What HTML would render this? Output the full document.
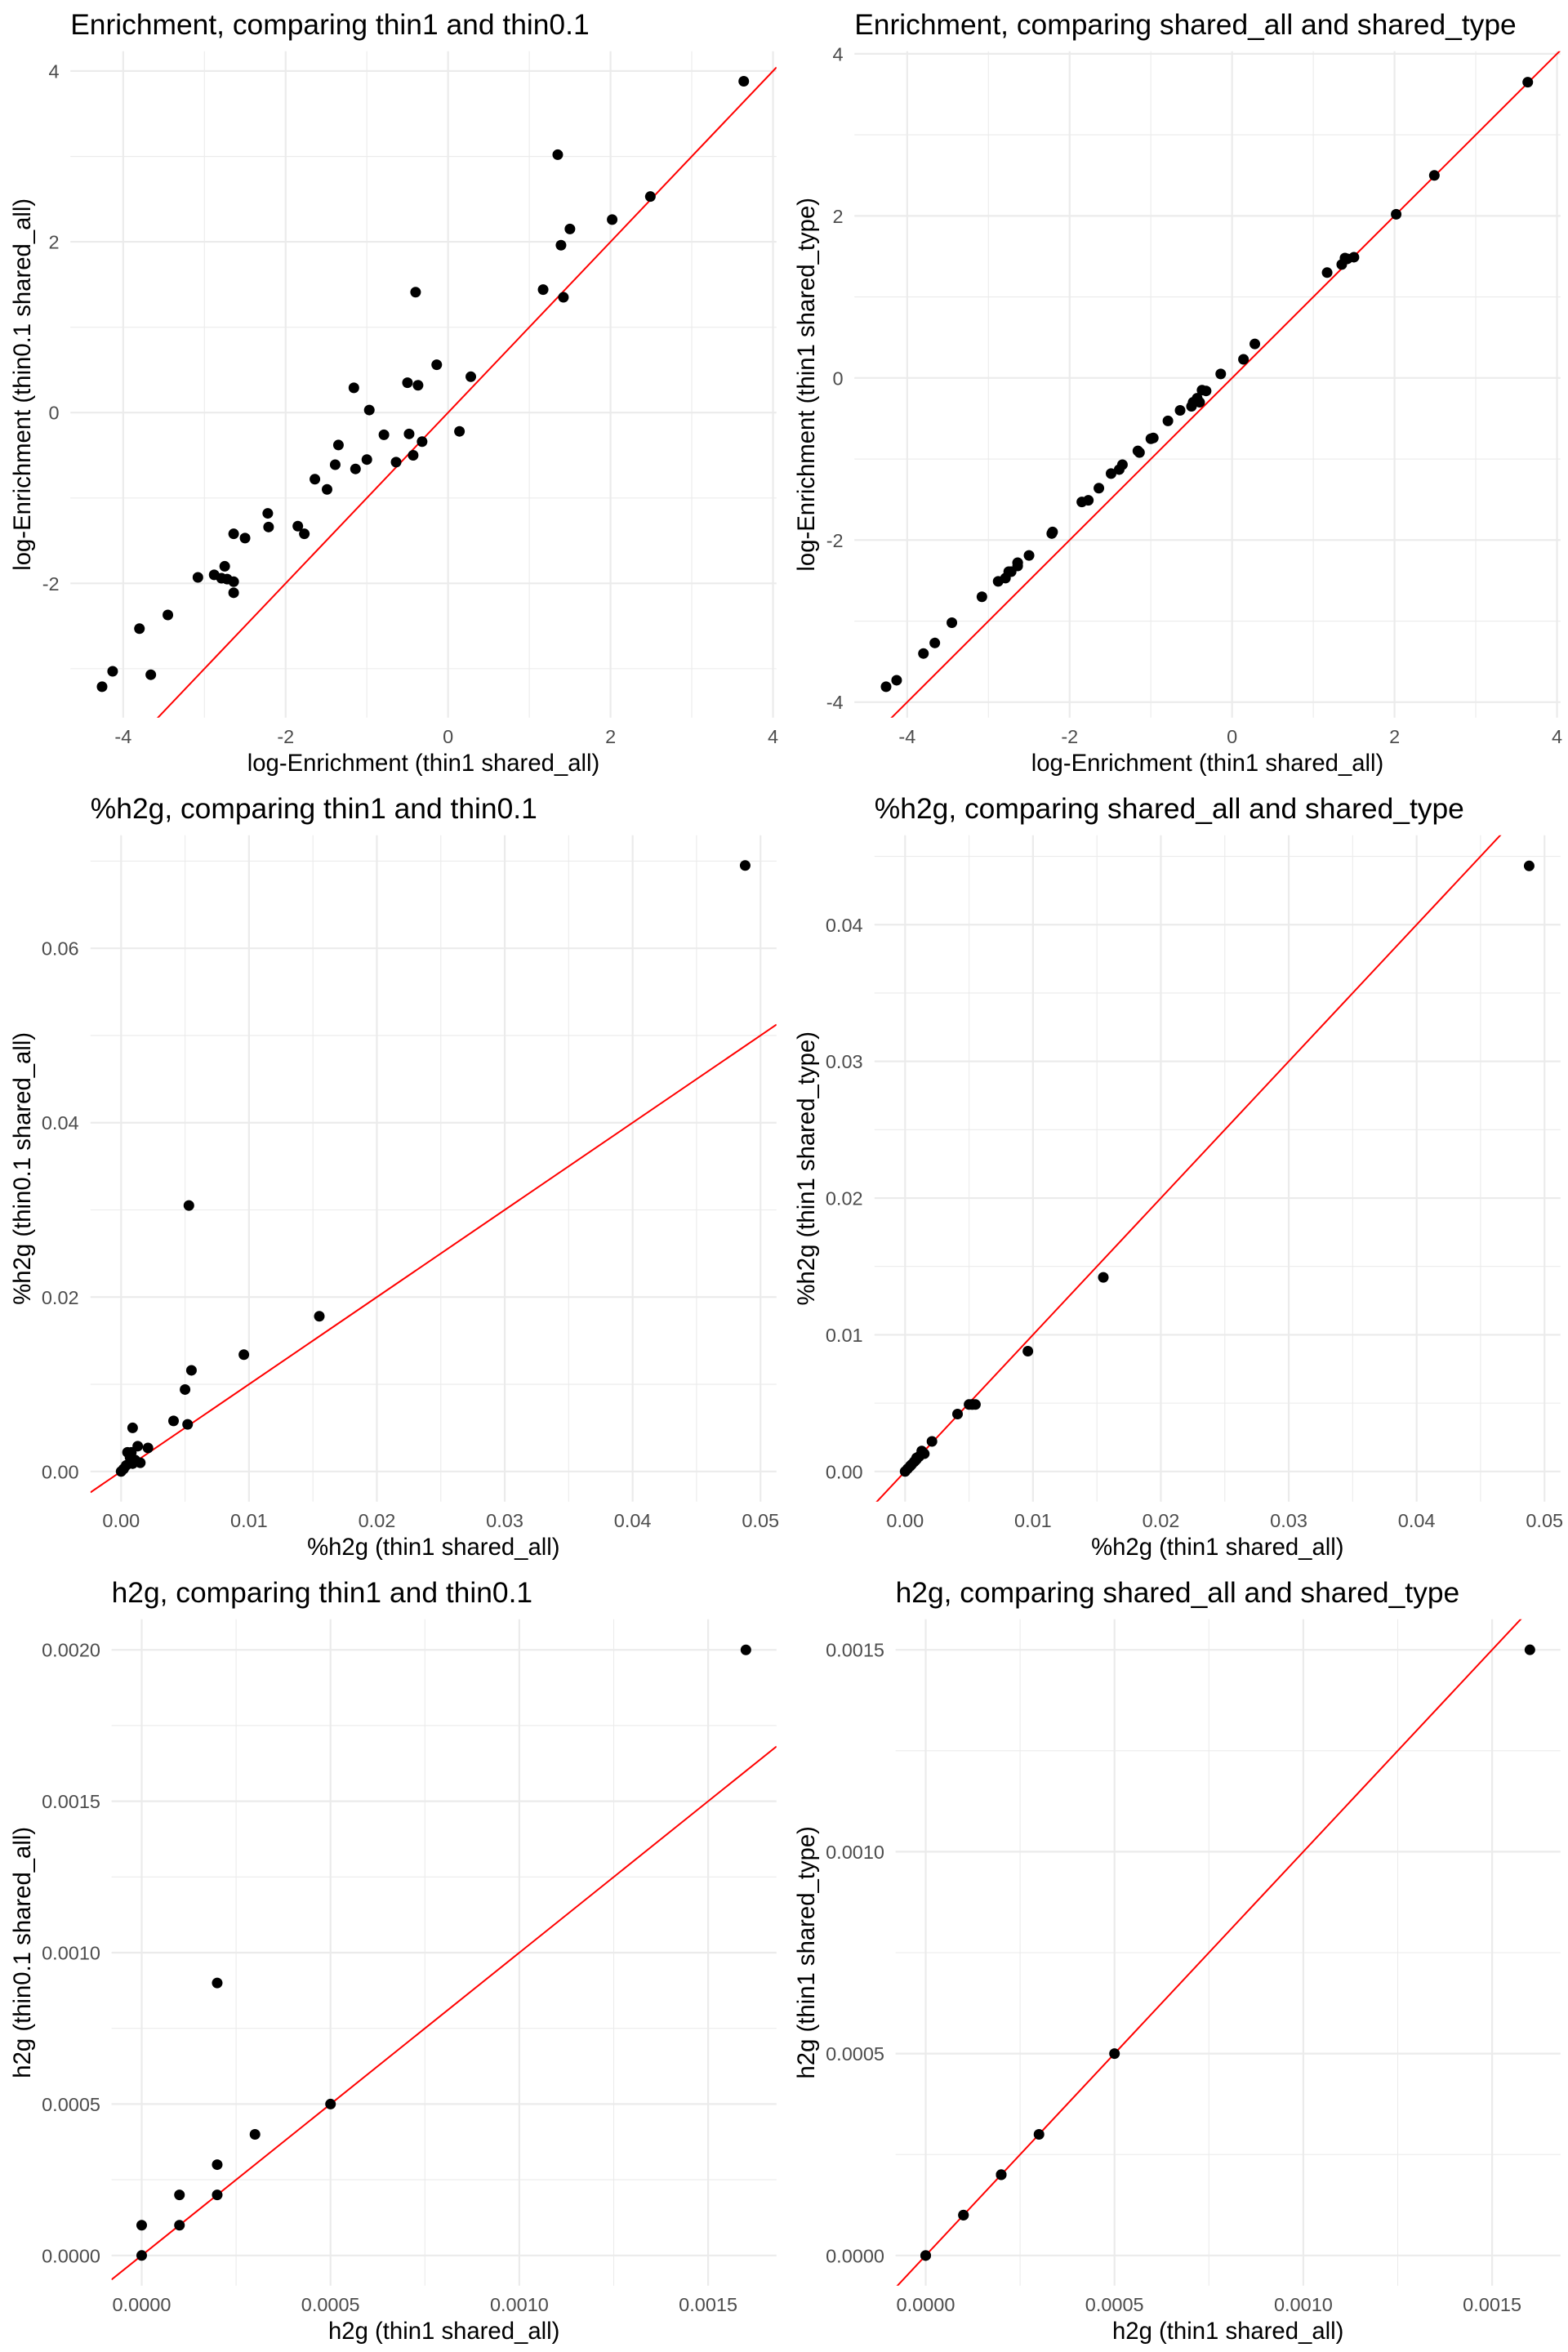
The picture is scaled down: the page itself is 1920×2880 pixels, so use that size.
<!DOCTYPE html>
<html><head><meta charset="utf-8"><title>Enrichment and h2g comparisons</title>
<style>
html,body{margin:0;padding:0;background:#fff;}
svg{display:block;font-family:"Liberation Sans",Arial,sans-serif;}
</style></head>
<body>
<svg id="chart" width="1920" height="2880" viewBox="0 0 1920 2880" xmlns="http://www.w3.org/2000/svg"></svg>
<script>
// ---- Data: panels 1 & 2 (log-Enrichment) ----
const enrX = [3.64,1.35,2.49,2.02,1.50,1.39,1.17,1.42,-0.40,-0.14,0.28,-0.50,-0.37,-1.16,-0.97,-0.79,-0.48,0.14,-0.32,-0.43,-0.64,-1.00,-1.14,-1.39,-1.35,-1.64,-1.49,-2.22,-2.21,-1.85,-1.77,-2.64,-2.50,-2.75,-2.88,-3.08,-2.79,-2.72,-2.64,-2.64,-3.45,-3.80,-4.13,-3.66,-4.26];
const enrThin01 = [3.88,3.02,2.53,2.26,2.15,1.96,1.44,1.35,1.41,0.56,0.42,0.35,0.32,0.29,0.03,-0.26,-0.25,-0.22,-0.34,-0.50,-0.58,-0.55,-0.66,-0.61,-0.38,-0.78,-0.90,-1.18,-1.34,-1.33,-1.42,-1.42,-1.47,-1.80,-1.90,-1.93,-1.94,-1.95,-1.98,-2.11,-2.37,-2.53,-3.03,-3.07,-3.21];
const enrSharedType = [3.65,1.40,2.50,2.02,1.49,1.48,1.30,1.47,-0.30,0.05,0.42,-0.35,-0.15,-0.90,-0.74,-0.53,-0.30,0.23,-0.16,-0.25,-0.40,-0.75,-0.92,-1.13,-1.07,-1.36,-1.18,-1.92,-1.90,-1.53,-1.51,-2.28,-2.19,-2.39,-2.51,-2.70,-2.47,-2.39,-2.32,-2.28,-3.02,-3.40,-3.73,-3.27,-3.81];
// ---- Data: panels 3 & 4 (%h2g) ----
const pctX = [0.0488,0.0053,0.0155,0.0096,0.0055,0.0050,0.0041,0.0052,0.0009,0.0021,0.0013,0.0005,0.0008,0.0015,0.0009,0.0004,0.0002,0.0000,0.0007,0.0011];
const pctThin01 = [0.0695,0.0305,0.0178,0.0134,0.0116,0.0094,0.0058,0.0054,0.0050,0.0027,0.0029,0.0022,0.0022,0.0010,0.0009,0.0007,0.0003,0.0000,0.0016,0.0013];
const pctSharedType = [0.0443,0.0049,0.0142,0.0088,0.0049,0.0049,0.0042,0.0049,0.0009,0.0022,0.0015,0.0005,0.0008,0.0013,0.0010,0.0004,0.0002,0.0000,0.0007,0.0011];
// ---- Data: panels 5 & 6 (h2g) ----
const h2gX = [0.0016,0.0002,0.0005,0.0003,0.0002,0.0002,0.0001,0.0001,0,0];
const h2gThin01 = [0.0020,0.0009,0.0005,0.0004,0.0003,0.0002,0.0002,0.0001,0.0001,0];
const h2gSharedType = [0.0015,0.0002,0.0005,0.0003,0.0002,0.0002,0.0001,0.0001,0,0];
// ---- Tick labels ----
const enrTicks1Y = [-2,0,2,4];
const enrTicks2Y = [-4,-2,0,2,4];
const enrTicksX = [-4,-2,0,2,4];
const pctTicksX = [0,0.01,0.02,0.03,0.04,0.05];
const pctTicks3Y = [0,0.02,0.04,0.06];
const pctTicks4Y = [0,0.01,0.02,0.03,0.04];
const h2gTicksX = [0,0.0005,0.001,0.0015];
const h2gTicks5Y = [0,0.0005,0.001,0.0015,0.002];
const h2gTicks6Y = [0,0.0005,0.001,0.0015];

const NS='http://www.w3.org/2000/svg';
const svg=document.getElementById('chart');
function mk(tag,attrs,parent){const e=document.createElementNS(NS,tag);for(const k in attrs)e.setAttribute(k,attrs[k]);(parent||svg).appendChild(e);return e;}

const panels=[
 {id:'enrichment-thin',ox:0,oy:0,left:86.2,right:950.8,xd:[-4.65,4.043],yd:[-3.573,4.231],xs:enrX,ys:enrThin01,xt:enrTicksX,yt:enrTicks1Y,dec:0,minX:[-3,-1,1,3],minY:[-3,-1,1,3],title:'Enrichment, comparing thin1 and thin0.1',xl:'log-Enrichment (thin1 shared_all)',yl:'log-Enrichment (thin0.1 shared_all)',tlx:72.6},
 {id:'enrichment-shared',ox:960,oy:0,left:86.2,right:950.8,xd:[-4.65,4.043],yd:[-4.192,4.031],xs:enrX,ys:enrSharedType,xt:enrTicksX,yt:enrTicks2Y,dec:0,minX:[-3,-1,1,3],minY:[-3,-1,1,3],title:'Enrichment, comparing shared_all and shared_type',xl:'log-Enrichment (thin1 shared_all)',yl:'log-Enrichment (thin1 shared_type)',tlx:72.6},
 {id:'pct-h2g-thin',ox:0,oy:960,left:110.8,right:950.8,xd:[-0.002395,0.05125],yd:[-0.003465,0.07296],xs:pctX,ys:pctThin01,xt:pctTicksX,yt:pctTicks3Y,dec:2,minX:[0.005,0.015,0.025,0.035,0.045],minY:[0.01,0.03,0.05,0.07],title:'%h2g, comparing thin1 and thin0.1',xl:'%h2g (thin1 shared_all)',yl:'%h2g (thin0.1 shared_all)',tlx:96.6},
 {id:'pct-h2g-shared',ox:960,oy:960,left:110.8,right:950.8,xd:[-0.002395,0.05125],yd:[-0.00221,0.04654],xs:pctX,ys:pctSharedType,xt:pctTicksX,yt:pctTicks4Y,dec:2,minX:[0.005,0.015,0.025,0.035,0.045],minY:[0.005,0.015,0.025,0.035,0.045],title:'%h2g, comparing shared_all and shared_type',xl:'%h2g (thin1 shared_all)',yl:'%h2g (thin1 shared_type)',tlx:96.6},
 {id:'h2g-thin',ox:0,oy:1920,left:136.6,right:950.8,xd:[-0.0000798,0.001681],yd:[-0.0000998,0.002101],xs:h2gX,ys:h2gThin01,xt:h2gTicksX,yt:h2gTicks5Y,dec:4,minX:[0.00025,0.00075,0.00125],minY:[0.00025,0.00075,0.00125,0.00175],title:'h2g, comparing thin1 and thin0.1',xl:'h2g (thin1 shared_all)',yl:'h2g (thin0.1 shared_all)',tlx:123},
 {id:'h2g-shared',ox:960,oy:1920,left:136.6,right:950.8,xd:[-0.0000798,0.001681],yd:[-0.0000748,0.0015756],xs:h2gX,ys:h2gSharedType,xt:h2gTicksX,yt:h2gTicks6Y,dec:4,minX:[0.00025,0.00075,0.00125],minY:[0.00025,0.00075,0.00125],title:'h2g, comparing shared_all and shared_type',xl:'h2g (thin1 shared_all)',yl:'h2g (thin1 shared_type)',tlx:123}
];
const TOP=62.8,BOT=878.8;

panels.forEach((p,pi)=>{
 const g=mk('g',{transform:`translate(${p.ox},${p.oy})`});
 
 
 const sx=v=>p.left+(v-p.xd[0])/(p.xd[1]-p.xd[0])*(p.right-p.left);
 const sy=v=>BOT-(v-p.yd[0])/(p.yd[1]-p.yd[0])*(BOT-TOP);
 const cp=mk('clipPath',{id:'clip'+pi},g);
 mk('rect',{x:p.left,y:TOP,width:p.right-p.left,height:BOT-TOP},cp);
 const grid=mk('g',{},g);
 
 
 p.minX.forEach(v=>mk('line',{x1:sx(v),x2:sx(v),y1:TOP,y2:BOT,stroke:'#ebebeb','stroke-width':1.1},grid));
 p.minY.forEach(v=>mk('line',{x1:p.left,x2:p.right,y1:sy(v),y2:sy(v),stroke:'#ebebeb','stroke-width':1.1},grid));
 p.xt.forEach(v=>mk('line',{x1:sx(v),x2:sx(v),y1:TOP,y2:BOT,stroke:'#ebebeb','stroke-width':2.2},grid));
 p.yt.forEach(v=>mk('line',{x1:p.left,x2:p.right,y1:sy(v),y2:sy(v),stroke:'#ebebeb','stroke-width':2.2},grid));
 p.xt.forEach(v=>{const t=mk('text',{x:sx(v),y:910,'text-anchor':'middle','font-size':23.5,fill:'#4d4d4d'},g);t.textContent=v.toFixed(p.dec);
  
  });
 p.yt.forEach(v=>{const t=mk('text',{x:p.tlx,y:sy(v)+8.5,'text-anchor':'end','font-size':23.5,fill:'#4d4d4d'},g);t.textContent=v.toFixed(p.dec);
  
  });
 const ln=mk('line',{x1:sx(p.xd[0]),y1:sy(p.xd[0]),x2:sx(p.xd[1]),y2:sy(p.xd[1]),stroke:'#ff0000','stroke-width':2,'clip-path':`url(#clip${pi})`},g);
 
 
 const pts=mk('g',{},g);
 
 
 p.xs.forEach((xv,i)=>{const c=mk('circle',{cx:sx(xv),cy:sy(p.ys[i]),r:6.5,fill:'#000'},pts);
  
  });
 const tt=mk('text',{x:p.left,y:42,'font-size':35.4,fill:'#000'},g);tt.textContent=p.title;
 
 
 const xl=mk('text',{x:(p.left+p.right)/2,y:944,'text-anchor':'middle','font-size':29.3,fill:'#000'},g);xl.textContent=p.xl;
 
 
 const cy=(TOP+BOT)/2;
 const yl=mk('text',{x:0,y:0,transform:`translate(37,${cy}) rotate(-90)`,'text-anchor':'middle','font-size':29.3,fill:'#000'},g);yl.textContent=p.yl;
 
 
});
</script>
</body></html>
